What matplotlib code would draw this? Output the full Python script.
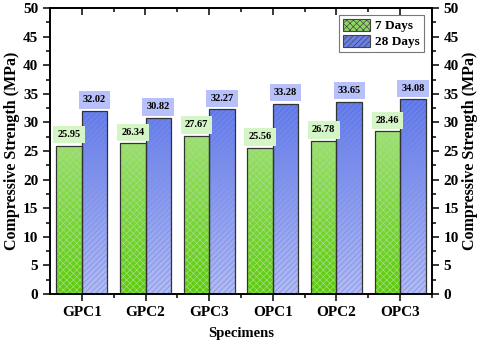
import numpy as np
import matplotlib
matplotlib.use("Agg")
import matplotlib.pyplot as plt
from matplotlib.patches import Patch
from matplotlib.colors import LinearSegmentedColormap
from matplotlib.ticker import MultipleLocator

plt.rcParams["font.family"] = "Liberation Serif"
plt.rcParams["font.weight"] = "bold"
plt.rcParams["hatch.linewidth"] = 0.5

# === data ===
specimens = ["GPC1", "GPC2", "GPC3", "OPC1", "OPC2", "OPC3"]
days7 = [25.95, 26.34, 27.67, 25.56, 26.78, 28.46]
days28 = [32.02, 30.82, 32.27, 33.28, 33.65, 34.08]

bar_w = 0.4
x = np.arange(len(specimens))

fig = plt.figure(figsize=(4.8, 3.47), dpi=100)
ax = fig.add_axes([50 / 480, 53 / 347, 382 / 480, 286 / 347])

green_cmap = LinearSegmentedColormap.from_list("g", ["#5ccc08", "#d0f0c4"])
blue_cmap = LinearSegmentedColormap.from_list("b", ["#b4bcf2", "#3554e4"])
grad = np.linspace(0, 1, 256).reshape(-1, 1)

def gradient_bars(xpos, vals, cmap, hatch, hatch_col, label):
    bars = ax.bar(xpos, vals, width=bar_w, align="edge", color="none",
                  edgecolor="none", zorder=2, label=label)
    for b in bars:
        x0, w = b.get_x(), b.get_width()
        im = ax.imshow(grad, cmap=cmap, origin="lower", aspect="auto",
                       extent=[x0, x0 + w, 0, 50], zorder=1)
        im.set_clip_path(b)
    # hatch layer
    ax.bar(xpos, vals, width=bar_w, align="edge", color="none",
           edgecolor=hatch_col, hatch=hatch, linewidth=0, zorder=3)
    # outline
    ax.bar(xpos, vals, width=bar_w, align="edge", color="none",
           edgecolor="#333333", linewidth=0.9, zorder=4)
    return bars

gradient_bars(x - bar_w, days7, green_cmap, "xxxxx", "#a6dc88", "7 Days")
gradient_bars(x, days28, blue_cmap, "//////", "#7890ea", "28 Days")

# === value labels ===
for i in range(len(specimens)):
    ax.text(x[i] - bar_w / 2, days7[i] + 1.9, f"{days7[i]:.2f}", ha="center",
            va="center", fontsize=7.5, fontweight="bold", zorder=5,
            bbox=dict(boxstyle="square,pad=0.4", fc="#d4f5c6", ec="none"))
    ax.text(x[i] + bar_w / 2, days28[i] + 1.9, f"{days28[i]:.2f}", ha="center",
            va="center", fontsize=7.5, fontweight="bold", zorder=5,
            bbox=dict(boxstyle="square,pad=0.4", fc="#b7c0f8", ec="none"))

# === axes ===
ax.set_xlim(-0.5, 5.5)
ax.set_ylim(0, 50)
ax.set_xticks(x)
ax.set_xticklabels(specimens)
ax.set_xticks(x + 0.5, minor=True)
ax.yaxis.set_major_locator(MultipleLocator(5))
ax.yaxis.set_minor_locator(MultipleLocator(2.5))
ax.tick_params(axis="x", which="both", direction="out", top=False,
               labelsize=11, width=1.1)
ax.tick_params(axis="x", which="major", length=5)
ax.tick_params(axis="x", which="minor", length=3)
ax.tick_params(axis="y", which="both", direction="out", labelsize=11, width=1.1)
ax.tick_params(axis="y", which="major", length=5)
ax.tick_params(axis="y", which="minor", length=3)
for s in ax.spines.values():
    s.set_linewidth(1.2)
ax.set_xlabel("Specimens", fontsize=10.5, fontweight="bold", labelpad=6)
ax.set_ylabel("Compressive Strength (MPa)", fontsize=11.5, fontweight="bold",
              labelpad=2)

# top ticks point inward
sec = ax.secondary_xaxis("top")
sec.set_xticks(x)
sec.set_xticks(x + 0.5, minor=True)
sec.tick_params(which="both", direction="in", labeltop=False, width=1.1)
sec.tick_params(which="major", length=5)
sec.tick_params(which="minor", length=3)
sec.spines["top"].set_linewidth(1.2)

ax2 = ax.twinx()
ax2.set_ylim(0, 50)
ax2.yaxis.set_major_locator(MultipleLocator(5))
ax2.yaxis.set_minor_locator(MultipleLocator(2.5))
ax2.tick_params(axis="y", which="both", direction="out", labelsize=11, width=1.1)
ax2.tick_params(axis="y", which="major", length=5)
ax2.tick_params(axis="y", which="minor", length=3)
ax2.set_ylabel("Compressive Strength (MPa)", fontsize=11.5, fontweight="bold",
               labelpad=2)
for s in ax2.spines.values():
    s.set_linewidth(1.2)

handles = [Patch(facecolor="#8fd860", edgecolor="#444444", hatch="xxxxx", lw=0.8),
           Patch(facecolor="#6a80e8", edgecolor="#444444", hatch="//////", lw=0.8)]
leg = ax.legend(handles, ["7 Days", "28 Days"], loc="upper right",
                bbox_to_anchor=(0.985, 0.985), fontsize=9.5, frameon=True,
                fancybox=False, edgecolor="#555555", handlelength=2.0,
                handleheight=1.0, borderpad=0.3, labelspacing=0.2,
                handletextpad=0.4, borderaxespad=0.2)
leg.get_frame().set_linewidth(0.8)

fig.savefig("out.png", dpi=100)
